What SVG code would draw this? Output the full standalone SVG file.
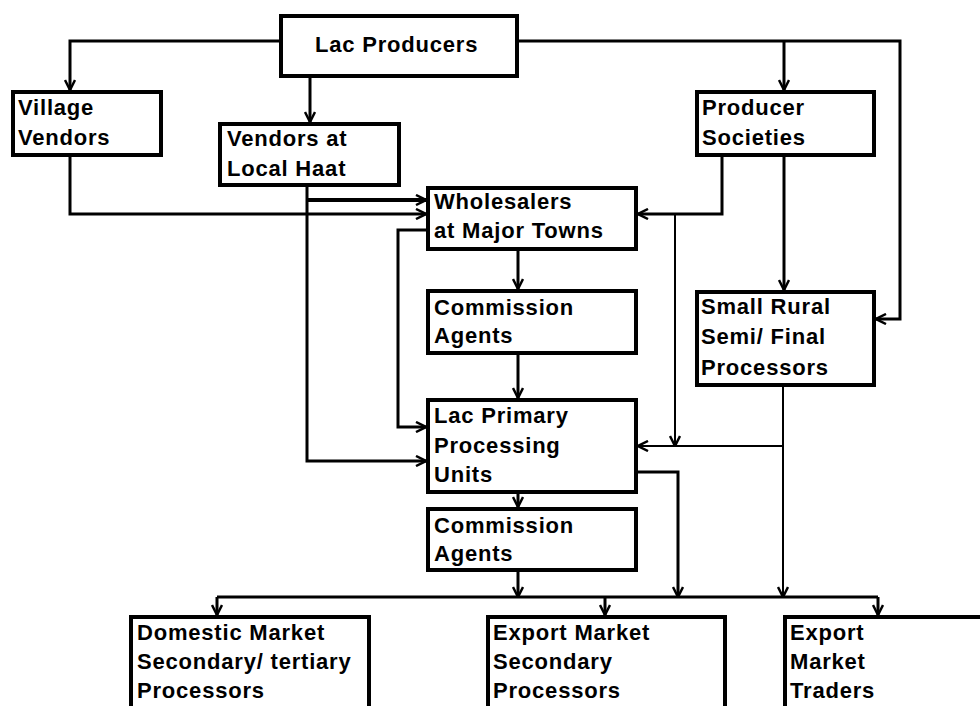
<svg xmlns="http://www.w3.org/2000/svg" width="980" height="706" viewBox="0 0 980 706">
  <style>
    .box { fill: #fff; stroke: #000; stroke-width: 4; }
    .lbl { font-family: "Liberation Sans", Arial, sans-serif; font-weight: bold; font-size: 22px; letter-spacing: 0.8px; fill: #000; }
    .wire { fill: none; stroke: #000; stroke-width: 3; }
    .thin { stroke-width: 2; }
    .arr { marker-end: url(#head); }
  </style>
  <defs>
    <marker id="head" viewBox="0 0 12 12" refX="11" refY="6" markerWidth="12" markerHeight="12" markerUnits="userSpaceOnUse" orient="auto">
      <path d="M1,1 L11,6 L1,11" fill="none" stroke="#000" stroke-width="2.5"/>
    </marker>
  </defs>
  <rect width="980" height="706" fill="#fff"/>

  <g id="connectors">
    <path class="wire arr" d="M279,41 H70 V90"/>
    <path class="wire arr" d="M310,78 V122"/>
    <path class="wire arr" d="M519,41 H900 V319 H876"/>
    <path class="wire arr" d="M784,41 V90"/>
    <path class="wire arr" d="M70,157 V214 H426"/>
    <path class="wire arr" d="M307,187 V461 H426"/>
    <path class="wire arr" style="stroke-width:4" d="M307,200 H426"/>
    <path class="wire arr" d="M426,230 H398 V427 H426"/>
    <path class="wire arr" d="M518,251 V289"/>
    <path class="wire arr" d="M518,355 V398"/>
    <path class="wire arr" d="M722,157 V214 H638"/>
    <path class="wire thin arr" d="M675,214 V446"/>
    <path class="wire arr" d="M784,157 V290"/>
    <path class="wire thin arr" d="M783,387 V597"/>
    <path class="wire thin arr" d="M783,446 H638"/>
    <path class="wire arr" d="M638,472 H678 V597"/>
    <path class="wire arr" d="M518,494 V507"/>
    <path class="wire arr" d="M518,572 V597"/>
    <path class="wire" d="M217,597 H878"/>
    <path class="wire arr" d="M217,597 V615"/>
    <path class="wire arr" d="M605,597 V615"/>
    <path class="wire arr" d="M878,597 V615"/>
  </g>

  <g id="lac-producers">
    <rect class="box" x="281" y="16" width="236" height="60"/>
    <text class="lbl" x="315" y="52">Lac Producers</text>
  </g>
  <g id="village-vendors">
    <rect class="box" x="13" y="92" width="148" height="63"/>
    <text class="lbl" x="18" y="115">Village</text>
    <text class="lbl" x="18" y="145">Vendors</text>
  </g>
  <g id="vendors-local-haat">
    <rect class="box" x="220" y="124" width="179" height="61"/>
    <text class="lbl" x="227" y="146">Vendors at</text>
    <text class="lbl" x="227" y="176">Local Haat</text>
  </g>
  <g id="producer-societies">
    <rect class="box" x="697" y="92" width="177" height="63"/>
    <text class="lbl" x="702" y="115">Producer</text>
    <text class="lbl" x="702" y="145">Societies</text>
  </g>
  <g id="wholesalers">
    <rect class="box" x="428" y="188" width="208" height="61"/>
    <text class="lbl" x="434" y="209">Wholesalers</text>
    <text class="lbl" x="434" y="238">at Major Towns</text>
  </g>
  <g id="commission-agents-1">
    <rect class="box" x="428" y="291" width="208" height="62"/>
    <text class="lbl" x="434" y="315">Commission</text>
    <text class="lbl" x="434" y="343">Agents</text>
  </g>
  <g id="small-rural-processors">
    <rect class="box" x="697" y="292" width="177" height="93"/>
    <text class="lbl" x="701" y="314">Small Rural</text>
    <text class="lbl" x="701" y="344">Semi/ Final</text>
    <text class="lbl" x="701" y="375">Processors</text>
  </g>
  <g id="lac-primary-processing">
    <rect class="box" x="428" y="400" width="208" height="92"/>
    <text class="lbl" x="434" y="423">Lac Primary</text>
    <text class="lbl" x="434" y="453">Processing</text>
    <text class="lbl" x="434" y="482">Units</text>
  </g>
  <g id="commission-agents-2">
    <rect class="box" x="428" y="509" width="208" height="61"/>
    <text class="lbl" x="434" y="533">Commission</text>
    <text class="lbl" x="434" y="561">Agents</text>
  </g>
  <g id="domestic-market">
    <rect class="box" x="131" y="617" width="238" height="95"/>
    <text class="lbl" x="137" y="640">Domestic Market</text>
    <text class="lbl" x="137" y="669">Secondary/ tertiary</text>
    <text class="lbl" x="137" y="698">Processors</text>
  </g>
  <g id="export-secondary">
    <rect class="box" x="488" y="617" width="237" height="95"/>
    <text class="lbl" x="493" y="640">Export Market</text>
    <text class="lbl" x="493" y="669">Secondary</text>
    <text class="lbl" x="493" y="698">Processors</text>
  </g>
  <g id="export-traders">
    <rect class="box" x="785" y="617" width="200" height="95"/>
    <text class="lbl" x="790" y="640">Export</text>
    <text class="lbl" x="790" y="669">Market</text>
    <text class="lbl" x="790" y="698">Traders</text>
  </g>
</svg>
